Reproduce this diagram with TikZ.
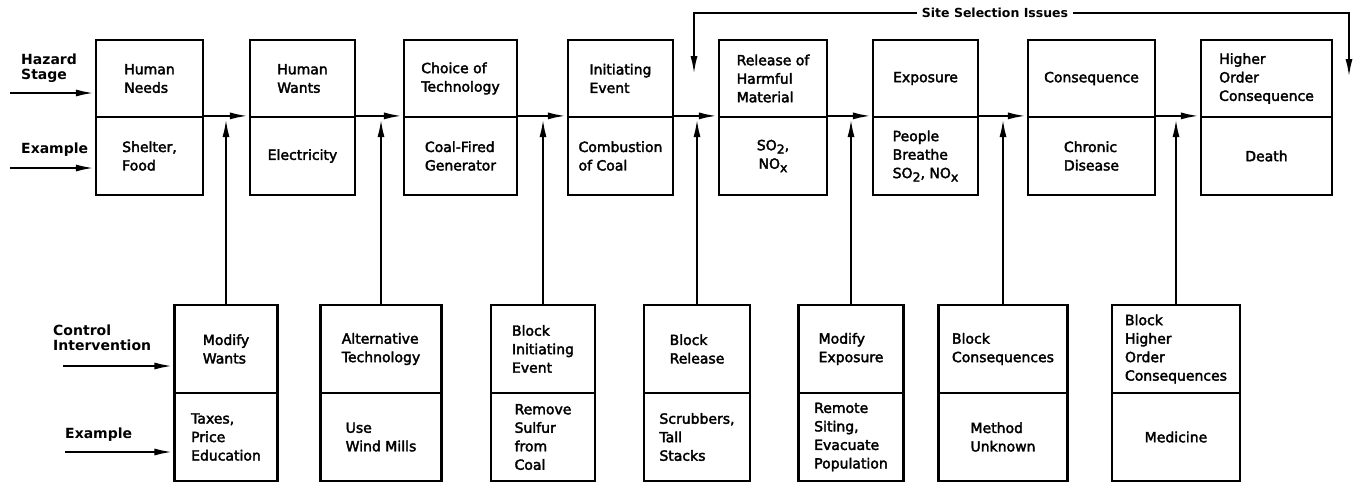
\documentclass[tikz,border=0pt]{standalone}
\usepackage{fontspec}
\setmainfont{DejaVu Sans}
\newfontfamily\boxfont{DejaVu Sans}[FakeBold=2.5]
\usetikzlibrary{arrows.meta}
\usetikzlibrary{calc}
\tikzset{>={Latex[length=19pt,width=7pt]}}
\newcommand\lowsub[1]{\raisebox{-0.45ex}{\fontsize{12.5}{12.5}\selectfont #1}}

\begin{document}
\begin{tikzpicture}[x=1pt,y=-1pt,
    box/.style={draw, line width=2.2pt, align=left, inner sep=0pt,
        font=\boxfont\fontsize{14}{18.5}\selectfont},
    upper/.style={box, minimum height=77pt},
    lower/.style={box, minimum height=78pt},
    ctrl/.style={box, minimum height=88pt},
    lbl/.style={align=left, inner sep=0pt, font=\fontsize{14}{15.5}\selectfont\bfseries},
    flow/.style={->, line width=2.4pt}]

    \useasboundingbox (0,0) rectangle (1353,483);

    % hazard stages and their examples
    \node[upper, minimum width=107pt] (h1) at (149.5,78.5) {Human\\Needs};
    \node[lower, minimum width=107pt] (e1) at (149.5,156) {Shelter,\\Food};
    \node[upper, minimum width=105pt] (h2) at (302.5,78.5) {Human\\Wants};
    \node[lower, minimum width=105pt] (e2) at (302.5,156) {Electricity};
    \node[upper, minimum width=113pt] (h3) at (460.5,78.5) {Choice of\\Technology};
    \node[lower, minimum width=113pt] (e3) at (460.5,156) {Coal-Fired\\Generator};
    \node[upper, minimum width=105pt] (h4) at (620.5,78.5) {Initiating\\Event};
    \node[lower, minimum width=105pt] (e4) at (620.5,156) {Combustion\\of Coal};
    \node[upper, minimum width=108pt] (h5) at (773,78.5) {Release of\\Harmful\\Material};
    \node[lower, minimum width=108pt, align=center] (e5) at (773,156) {SO\lowsub{2},\\NO\lowsub{x}};
    \node[upper, minimum width=105pt] (h6) at (925.5,78.5) {Exposure};
    \node[lower, minimum width=105pt] (e6) at (925.5,156) {People\\Breathe\\SO\lowsub{2}, NO\lowsub{x}};
    \node[upper, minimum width=127pt] (h7) at (1091.5,78.5) {Consequence};
    \node[lower, minimum width=127pt] (e7) at (1091.5,156) {Chronic\\Disease};
    \node[upper, minimum width=131pt] (h8) at (1266.5,78.5) {Higher\\Order\\Consequence};
    \node[lower, minimum width=131pt] (e8) at (1266.5,156) {Death};

    % control interventions and their examples
    \node[ctrl, minimum width=103pt] (c1) at (226,349) {Modify\\Wants};
    \node[ctrl, minimum width=103pt] (x1) at (226,437) {Taxes,\\Price\\Education};
    \node[ctrl, minimum width=121pt] (c2) at (381,349) {Alternative\\Technology};
    \node[ctrl, minimum width=121pt] (x2) at (381,437) {Use\\Wind Mills};
    \node[ctrl, minimum width=104pt] (c3) at (543,349) {Block\\Initiating\\Event};
    \node[ctrl, minimum width=104pt] (x3) at (543,437) {Remove\\Sulfur\\from\\Coal};
    \node[ctrl, minimum width=106pt] (c4) at (697,349) {Block\\Release};
    \node[ctrl, minimum width=106pt] (x4) at (697,437) {Scrubbers,\\Tall\\Stacks};
    \node[ctrl, minimum width=105pt] (c5) at (851,349) {Modify\\Exposure};
    \node[ctrl, minimum width=105pt] (x5) at (851,437) {Remote\\Siting,\\Evacuate\\Population};
    \node[ctrl, minimum width=129pt] (c6) at (1003,349) {Block\\Consequences};
    \node[ctrl, minimum width=129pt] (x6) at (1003,437) {Method\\Unknown};
    \node[ctrl, minimum width=128pt] (c7) at (1176,349) {Block\\Higher\\Order\\Consequences};
    \node[ctrl, minimum width=128pt] (x7) at (1176,437) {Medicine};

    % row labels
    \node[lbl, anchor=west] (hazard) at (21,68) {Hazard\\Stage};
    \node[lbl, anchor=west] (exA) at (21,150) {Example};
    \node[lbl, anchor=west] (control) at (53,338) {Control\\Intervention};
    \node[lbl, anchor=west] (exB) at (65,435) {Example};

    \coordinate (hazardin) at (10,93);
    \coordinate (exAin) at (10,168);
    \coordinate (controlin) at (63,366);
    \coordinate (exBin) at (65,452);

    \draw[flow] (hazardin) -- (hazardin -| h1.west);
    \draw[flow] (exAin) -- (exAin -| e1.west);
    \draw[flow] (controlin) -- (controlin -| c1.west);
    \draw[flow] (exBin) -- (exBin -| x1.west);

    % chain of stages
    \foreach \a/\b in {e1/e2,e2/e3,e3/e4,e4/e5,e5/e6,e6/e7,e7/e8}
    \draw[flow] (\a.north east) -- (\b.north west);

    % interventions acting on the chain
    \foreach \c/\h in {c1/h1,c2/h2,c3/h3,c4/h4,c5/h5,c6/h6,c7/h7}
    \draw[flow] (\c.north) -- (\c.north |- \h.south);

    % site selection loop
    \node[font=\fontsize{12.5}{14}\selectfont\bfseries, inner sep=5pt] (site) at (995,13) {Site Selection Issues};
    \coordinate (siteL) at (694,75);
    \coordinate (siteR) at (1349,78);
    \draw[flow] (site.west) -| (siteL);
    \draw[flow] (site.east) -| (siteR);

\end{tikzpicture}
\end{document}
